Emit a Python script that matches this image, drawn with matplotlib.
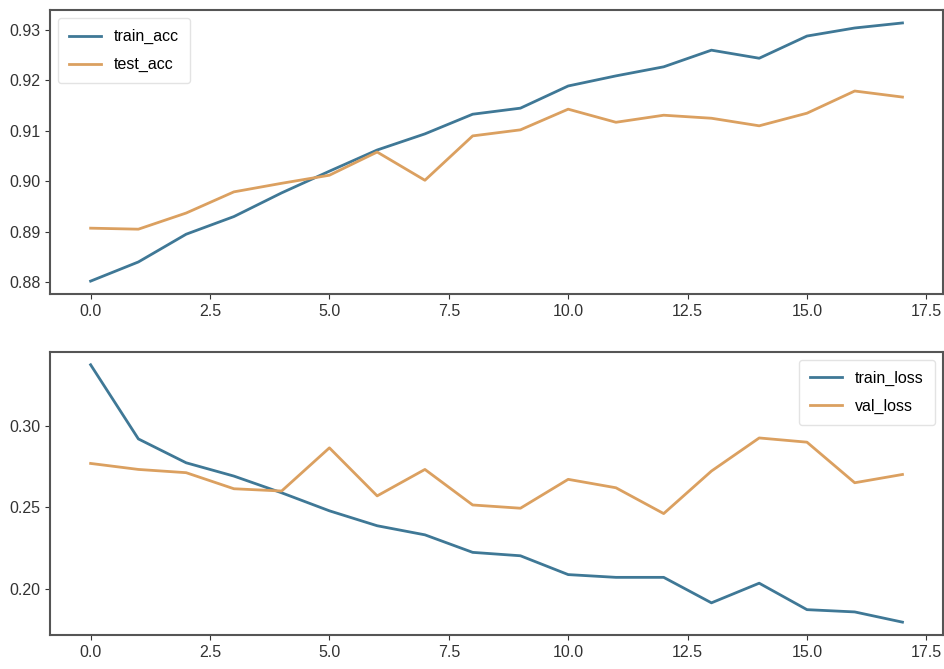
import matplotlib.pyplot as plt

epochs = list(range(18))

train_acc = [0.8802, 0.8840, 0.8895, 0.8930, 0.8977, 0.9020, 0.9062, 0.9094, 0.9133,
             0.9145, 0.9189, 0.9209, 0.9227, 0.9260, 0.9244, 0.9288, 0.9304, 0.9314]
test_acc = [0.8907, 0.8905, 0.8937, 0.8979, 0.8996, 0.9012, 0.9058, 0.9002, 0.9090,
            0.9102, 0.9143, 0.9117, 0.9131, 0.9125, 0.9110, 0.9135, 0.9179, 0.9167]

train_loss = [0.3379, 0.2922, 0.2775, 0.2693, 0.2590, 0.2479, 0.2387, 0.2331, 0.2223,
              0.2202, 0.2086, 0.2069, 0.2069, 0.1912, 0.2033, 0.1870, 0.1856, 0.1793]
val_loss = [0.2771, 0.2734, 0.2714, 0.2615, 0.2601, 0.2867, 0.2571, 0.2734, 0.2515,
            0.2495, 0.2673, 0.2621, 0.2462, 0.2724, 0.2928, 0.2902, 0.2652, 0.2703]

plt.rcParams["font.family"] = ["Liberation Sans", "DejaVu Sans"]
plt.rcParams["font.size"] = 11

blue = "#3f7896"
orange = "#dba060"
spine_col = "#555555"

fig = plt.figure(figsize=(9.44, 6.69), dpi=100)
ax1 = fig.add_axes([0.053, 0.5605, 0.946, 0.4245])
ax2 = fig.add_axes([0.053, 0.0508, 0.946, 0.4232])

leg_kw = dict(fontsize=11.5, edgecolor="#dddddd", borderpad=0.7, labelspacing=0.8)

ax1.plot(epochs, train_acc, color=blue, lw=2, label="train_acc")
ax1.plot(epochs, test_acc, color=orange, lw=2, label="test_acc")
ax1.legend(loc="upper left", **leg_kw)

ax2.plot(epochs, train_loss, color=blue, lw=2, label="train_loss")
ax2.plot(epochs, val_loss, color=orange, lw=2, label="val_loss")
ax2.legend(loc="upper right", **leg_kw)
ax2.set_yticks([0.20, 0.25, 0.30])

for ax in (ax1, ax2):
    ax.set_xticks([0, 2.5, 5, 7.5, 10, 12.5, 15, 17.5])
    ax.tick_params(colors="#333333", labelsize=11.5)
    for s in ax.spines.values():
        s.set_color(spine_col)
        s.set_linewidth(1.5)

fig.savefig("out.png", dpi=100)
